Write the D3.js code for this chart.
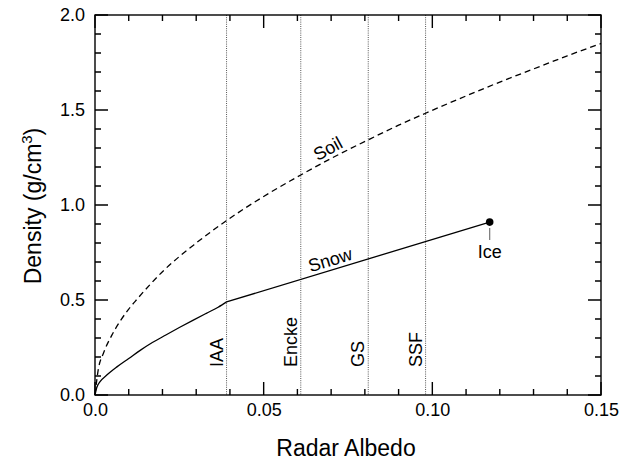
<!DOCTYPE html>
<html>
<head>
<meta charset="utf-8">
<script src="https://cdn.jsdelivr.net/npm/d3@7"></script>
<style>
  body { margin: 0; background: #fff; }
  text { font-family: "Liberation Sans", Arial, Helvetica, sans-serif; fill: #000; }
</style>
</head>
<body>
<div id="chart"></div>
<script>
// axis ticks
const xMajorTicks = [0, 0.05, 0.10, 0.15]
const xTickLabels = ['0.0', '0.05', '0.10', '0.15']
const xMinorTicks = [0.01, 0.02, 0.03, 0.04, 0.06, 0.07, 0.08, 0.09, 0.11, 0.12, 0.13, 0.14]
const yMajorTicks = [0, 0.5, 1.0, 1.5, 2.0]
const yTickLabels = ['0.0', '0.5', '1.0', '1.5', '2.0']
const yMinorTicks = [0.1, 0.2, 0.3, 0.4, 0.6, 0.7, 0.8, 0.9, 1.1, 1.2, 1.3, 1.4, 1.6, 1.7, 1.8, 1.9]

// soil curve (dashed)
const soilAlbedo  = [0, 0.001, 0.0025, 0.005, 0.0075, 0.01, 0.0125, 0.02, 0.03, 0.039, 0.05, 0.061, 0.07, 0.081, 0.09, 0.098, 0.11, 0.12, 0.13, 0.14, 0.15]
const soilDensity = [0, 0.137, 0.22, 0.315, 0.39, 0.452, 0.505, 0.649, 0.80, 0.918, 1.045, 1.158, 1.245, 1.343, 1.42, 1.483, 1.574, 1.647, 1.716, 1.785, 1.85]

// snow curve (solid), bends at the IAA line then runs straight to ice
const snowAlbedo  = [0, 0.0005, 0.0015, 0.0035, 0.0065, 0.01, 0.0135, 0.017, 0.021, 0.025, 0.029, 0.033, 0.0365, 0.039]
const snowDensity = [0, 0.038, 0.07, 0.105, 0.148, 0.192, 0.236, 0.276, 0.316, 0.355, 0.393, 0.43, 0.462, 0.49]
const snowEnd = [0.039, 0.49]
const icePoint = [0.117, 0.91]

// vertical reference lines
const targetNames  = ['IAA', 'Encke', 'GS', 'SSF']
const targetAlbedo = [0.039, 0.061, 0.081, 0.098]

let margin = { top: 15, left: 95, right: 28, bottom: 69 }
let width = 629 - margin.left - margin.right
let height = 464 - margin.top - margin.bottom

let svg = d3.select('#chart')
  .append('svg')
  .attr('width', 629)
  .attr('height', 464)
  .append('g')
  .attr('transform', 'translate(' + margin.left + ',' + margin.top + ')')

const x = d3.scaleLinear().domain([0, 0.15]).range([0, width])
const y = d3.scaleLinear().domain([0, 2]).range([height, 0])

// dotted target lines
svg.selectAll('.target')
  .data(targetAlbedo)
  .enter()
  .append('line')
  .attr('class', 'target')
  .attr('x1', d => x(d)).attr('x2', d => x(d))
  .attr('y1', 0).attr('y2', height)
  .attr('stroke', '#555')
  .attr('stroke-width', 1)
  .attr('stroke-dasharray', '1,1.2')

svg.selectAll('.target-label')
  .data(targetNames)
  .enter()
  .append('text')
  .attr('class', 'target-label')
  .attr('transform', (d, i) => 'translate(' + (x(targetAlbedo[i]) - 4) + ',' + (height - 28) + ') rotate(-90)')
  .attr('font-size', 18)
  .text(d => d)

// tick labels through d3 axes
let xAxis = svg.append('g')
  .attr('transform', 'translate(0,' + height + ')')
  .call(d3.axisBottom(x).tickValues(xMajorTicks).tickSize(0).tickPadding(8).tickFormat((d, i) => xTickLabels[i]))
let yAxis = svg.append('g')
  .call(d3.axisLeft(y).tickValues(yMajorTicks).tickSize(0).tickPadding(10).tickFormat((d, i) => yTickLabels[i]))
xAxis.select('.domain').remove()
yAxis.select('.domain').remove()
svg.selectAll('.tick text').attr('font-size', 18).attr('font-family', '"Liberation Sans", Arial, sans-serif')

// inward tick marks on all four sides, one path
let tickPath = d3.path()
xMajorTicks.forEach(v => {
  tickPath.moveTo(x(v), height); tickPath.lineTo(x(v), height - 13)
  tickPath.moveTo(x(v), 0); tickPath.lineTo(x(v), 13)
})
xMinorTicks.forEach(v => {
  tickPath.moveTo(x(v), height); tickPath.lineTo(x(v), height - 6)
  tickPath.moveTo(x(v), 0); tickPath.lineTo(x(v), 6)
})
yMajorTicks.forEach(v => {
  tickPath.moveTo(0, y(v)); tickPath.lineTo(13, y(v))
  tickPath.moveTo(width, y(v)); tickPath.lineTo(width - 13, y(v))
})
yMinorTicks.forEach(v => {
  tickPath.moveTo(0, y(v)); tickPath.lineTo(6, y(v))
  tickPath.moveTo(width, y(v)); tickPath.lineTo(width - 6, y(v))
})
svg.append('path')
  .attr('class', 'ticks')
  .attr('d', tickPath.toString())
  .attr('fill', 'none')
  .attr('stroke', '#000')
  .attr('stroke-width', 1.4)

svg.append('rect')
  .attr('width', width)
  .attr('height', height)
  .attr('fill', 'none')
  .attr('stroke', '#000')
  .attr('stroke-width', 1.4)

// curves
const soilLine = d3.line()
  .x((d, i) => x(soilAlbedo[i]))
  .y(d => y(d))
  .curve(d3.curveMonotoneX)

svg.append('path')
  .datum(soilDensity)
  .attr('d', soilLine)
  .attr('fill', 'none')
  .attr('stroke', '#000')
  .attr('stroke-width', 1.3)
  .attr('stroke-dasharray', '6,4')

const snowLine = d3.line()
  .x((d, i) => x(snowAlbedo[i]))
  .y(d => y(d))
  .curve(d3.curveMonotoneX)

svg.append('path')
  .datum(snowDensity)
  .attr('d', snowLine)
  .attr('fill', 'none')
  .attr('stroke', '#000')
  .attr('stroke-width', 1.3)

svg.append('line')
  .attr('x1', x(snowEnd[0])).attr('y1', y(snowEnd[1]))
  .attr('x2', x(icePoint[0])).attr('y2', y(icePoint[1]))
  .attr('stroke', '#000')
  .attr('stroke-width', 1.3)

// ice point
svg.append('circle')
  .attr('cx', x(icePoint[0]))
  .attr('cy', y(icePoint[1]))
  .attr('r', 3.8)
  .attr('fill', '#000')

svg.append('line')
  .attr('x1', x(icePoint[0])).attr('x2', x(icePoint[0]))
  .attr('y1', y(icePoint[1]) + 6).attr('y2', y(icePoint[1]) + 18)
  .attr('stroke', '#777')
  .attr('stroke-width', 1.2)

svg.append('text')
  .attr('x', x(icePoint[0]))
  .attr('y', y(icePoint[1]) + 36)
  .attr('text-anchor', 'middle')
  .attr('font-size', 18)
  .text('Ice')

// curve labels
let snowAngle = Math.atan2(y(icePoint[1]) - y(snowEnd[1]), x(icePoint[0]) - x(snowEnd[0])) * 180 / Math.PI
let snowLabelX = 0.0706
let snowLabelY = snowEnd[1] + (snowLabelX - snowEnd[0]) * (icePoint[1] - snowEnd[1]) / (icePoint[0] - snowEnd[0])
svg.append('text')
  .attr('transform', 'translate(' + x(snowLabelX) + ',' + y(snowLabelY) + ') rotate(' + snowAngle + ')')
  .attr('text-anchor', 'middle')
  .attr('dy', -4)
  .attr('font-size', 18)
  .text('Snow')

let soilAngle = Math.atan2(y(soilDensity[14]) - y(soilDensity[11]), x(soilAlbedo[14]) - x(soilAlbedo[11])) * 180 / Math.PI
svg.append('text')
  .attr('transform', 'translate(' + x(0.0705) + ',' + y(1.25) + ') rotate(' + (soilAngle - 2) + ')')
  .attr('text-anchor', 'middle')
  .attr('dy', -4)
  .attr('font-size', 18)
  .text('Soil')

// axis titles
svg.append('text')
  .attr('x', width / 2 - 2)
  .attr('y', height + 61)
  .attr('text-anchor', 'middle')
  .attr('font-size', 23)
  .text('Radar Albedo')

let yTitle = svg.append('text')
  .attr('transform', 'translate(' + (41 - margin.left) + ',' + (height / 2 + 1) + ') rotate(-90)')
  .attr('text-anchor', 'middle')
  .attr('font-size', 23)
yTitle.append('tspan').text('Density (g/cm')
yTitle.append('tspan').attr('font-size', 15).attr('dy', -9).text('3')
yTitle.append('tspan').attr('dy', 9).text(')')
</script>
</body>
</html>
